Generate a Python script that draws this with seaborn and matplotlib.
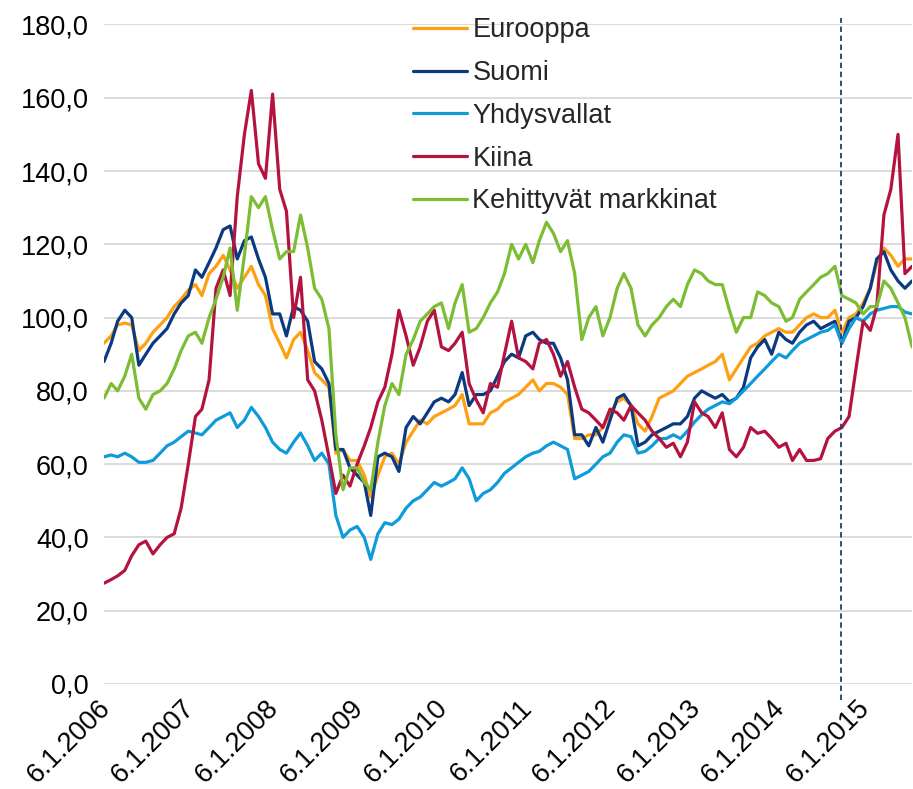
import numpy as np
import pandas as pd
import matplotlib
matplotlib.use("Agg")
import matplotlib.pyplot as plt
import matplotlib.transforms as mtransforms
import seaborn as sns

# monthly readings (6th of each month), Jan 2006 .. Aug 2015
eurooppa = [
    93, 95, 98, 98.5, 98, 91, 93, 96, 98, 100, 103, 105,
    107.5, 109, 106, 112, 114, 117, 113, 108, 111, 114, 109, 106,
    97, 93, 89, 94, 96, 91, 85, 83, 81, 63, 64, 61,
    61, 57, 51, 57, 62, 63, 60, 66, 69, 72, 71, 73,
    74, 75, 76, 79, 71, 71, 71, 74, 75, 77, 78, 79,
    81, 83, 80, 82, 82, 81, 79, 67, 67, 68, 68, 70,
    74, 77, 78, 76, 71, 69, 73, 78, 79, 80, 82, 84,
    85, 86, 87, 88, 90, 83, 86, 89, 92, 93, 95, 96,
    97, 96, 96, 98, 100, 101, 100, 100, 102, 96, 100, 101,
    104, 108, 115, 119, 117, 114, 116, 116,
]
suomi = [
    88, 93, 99, 102, 100, 87, 90, 93, 95, 97, 101, 104,
    106, 113, 111, 115, 119, 124, 125, 116, 121, 122, 116, 111,
    101, 101, 95, 103, 102, 99, 88, 86, 82, 64, 64, 59,
    57, 55, 46, 62, 63, 62, 58, 70, 73, 71, 74, 77,
    78, 77, 79, 85, 76, 79, 79, 80, 84, 88, 90, 89,
    95, 96, 94, 93, 93, 89, 83, 68, 68, 65, 70, 66,
    72, 78, 79, 76, 65, 66, 68, 69, 70, 71, 71, 73,
    78, 80, 79, 78, 79, 77, 78, 81, 89, 92, 94, 90,
    96, 94, 93, 96, 98, 99, 97, 98, 99, 93, 99, 100,
    103, 108, 116, 118, 113, 110, 108, 110,
]
yhdysvallat = [
    62, 62.5, 62, 63, 62, 60.5, 60.5, 61, 63, 65, 66, 67.5,
    69, 68.5, 68, 70, 72, 73, 74, 70, 72, 75.5, 73, 70,
    66, 64, 63, 66, 68.5, 65, 61, 63, 60, 46, 40, 42,
    43, 40, 34, 41, 44, 43.5, 45, 48, 50, 51, 53, 55,
    54, 55, 56, 59, 56, 50, 52, 53, 55, 57.5, 59, 60.5,
    62, 63, 63.5, 65, 66, 65, 64, 56, 57, 58, 60, 62,
    63, 66, 68, 67.5, 63, 63.5, 65, 67, 67, 68, 67, 69,
    71.5, 73.5, 75, 76, 77, 76.5, 78, 80, 82, 84, 86, 88,
    90, 89, 91, 93, 94, 95, 96, 96.5, 98, 93, 97, 100,
    99, 101, 102, 102.5, 103, 103, 101.5, 101,
]
kiina = [
    27.5, 28.5, 29.5, 31, 35, 38, 39, 35.5, 38, 40, 41, 48,
    60, 73, 75, 83, 108, 113, 106, 133, 150, 162, 142, 138,
    161, 135, 129, 100, 111, 83, 80, 72, 62, 52, 57, 54,
    60, 65, 70, 77, 81, 90, 102, 95, 87, 92, 99, 102,
    92, 91, 93, 96, 82, 77.5, 74, 82, 81, 90, 99, 89,
    88, 86, 93, 94, 90, 84, 88, 81, 75, 74, 72, 70,
    75, 74, 72, 76, 74, 72, 69, 67, 64.6, 65.7, 62, 66,
    77, 74, 73, 70, 74, 64, 62, 64.6, 70, 68.4, 69, 67,
    64.6, 65.7, 61, 64, 61, 61, 61.5, 67, 69, 70, 73, 86,
    99, 96.5, 103, 128, 135, 150, 112, 114,
]
kehittyvat = [
    78, 82, 80, 84, 90, 78, 75, 79, 80, 82, 86, 91,
    95, 96, 93, 100, 105, 111, 119, 102, 117, 133, 130, 133,
    124, 116, 118, 118, 128, 119, 108, 105, 97, 68, 53, 59,
    59, 55, 53, 66, 76, 82, 79, 90, 94, 99, 101, 103,
    104, 97, 104, 109, 96, 97, 100, 104, 107, 112, 120, 116,
    120, 115, 121, 126, 123, 118, 121, 112, 94, 100, 103, 95,
    100, 108, 112, 108, 98, 95, 98, 100, 103, 105, 103, 109,
    113, 112, 110, 109, 109, 102, 96, 100, 100, 107, 106, 104,
    103, 99, 100, 105, 107, 109, 111, 112, 114, 106, 105, 104,
    101, 103, 103, 110, 108, 104, 100, 92,
]

series_names = ["Eurooppa", "Suomi", "Yhdysvallat", "Kiina", "Kehittyvät markkinat"]
series_values = [eurooppa, suomi, yhdysvallat, kiina, kehittyvat]
colors = ["#FFA012", "#0B3A80", "#0F9BDA", "#B5133F", "#7CBD34"]

tick_years = list(range(2006, 2016))
tick_labels = [f"6.1.{y}" for y in tick_years]
MARKER_DATE = "2014-10-03"
FS = 19.5

dates = pd.date_range("2006-01-01", periods=len(eurooppa), freq="MS") + pd.Timedelta(days=5)
wide = pd.DataFrame(dict(zip(series_names, series_values)), index=dates)
wide.index.name = "pvm"
long = wide.reset_index().melt(id_vars="pvm", var_name="sarja", value_name="arvo")

sns.set_style("white")
plt.rcParams["font.family"] = ["Liberation Sans", "DejaVu Sans"]

fig = plt.figure(figsize=(9.13, 7.89), dpi=100)
ax = fig.add_axes([0.1139, 0.1331, 0.8851, 0.8359])

sns.lineplot(data=long, x="pvm", y="arvo", hue="sarja", hue_order=series_names,
             palette=colors, linewidth=2.3, ax=ax, legend=False)

ax.set_xlim(dates[0], dates[-1])
ax.set_ylim(0, 180)
ax.set_yticks(np.arange(0, 181, 20))
ax.set_yticklabels([f"{v:.1f}".replace(".", ",") for v in np.arange(0, 181, 20)])
ax.set_xticks([pd.Timestamp(f"{y}-01-06") for y in tick_years])
ax.set_xticklabels(tick_labels, rotation=45, ha="right", rotation_mode="anchor")
ax.tick_params(axis="both", labelsize=FS, length=0, colors="black")
ax.tick_params(axis="y", pad=11)
ax.tick_params(axis="x", pad=8)
ax.set_xlabel("")
ax.set_ylabel("")
ax.grid(axis="y", color="#d9d9d9", linewidth=1.3)
ax.grid(axis="x", visible=False)
ax.set_axisbelow(True)
for s in ax.spines.values():
    s.set_visible(False)

# nudge rotated date labels a little to the left, like the original
shift = mtransforms.ScaledTranslation(-0.07, 0, fig.dpi_scale_trans)
for lbl in ax.get_xticklabels():
    lbl.set_transform(lbl.get_transform() + shift)

ax.axvline(pd.Timestamp(MARKER_DATE), ymin=-0.024, ymax=1.01, color="#1F3F7A",
           linestyle=(0, (3, 2)), linewidth=1.3, clip_on=False)

handles = [plt.Line2D([], [], color=c, linewidth=2.3) for c in colors]
ax.legend(handles, series_names, loc="upper left", bbox_to_anchor=(0.382, 1.011),
          frameon=False, fontsize=FS, handlelength=2.0, handletextpad=0.2,
          labelspacing=0.62, borderpad=0, borderaxespad=0)

fig.savefig("out.png", dpi=100)
